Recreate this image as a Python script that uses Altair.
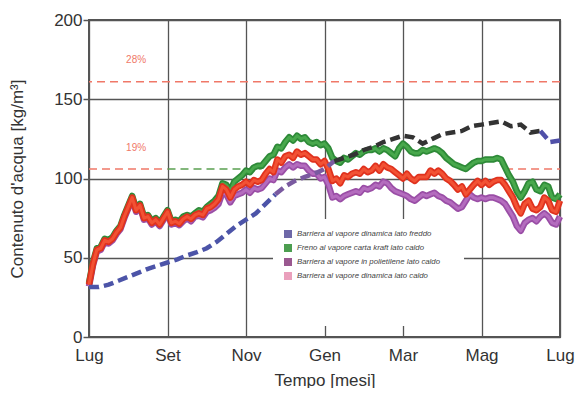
import json
import altair as alt
import pandas as pd

# ---------------- data ----------------
month_labels = ["Lug", "Set", "Nov", "Gen", "Mar", "Mag", "Lug"]
tick_months = [0, 2, 4, 6, 8, 10, 12]
y_ticks = [0, 50, 100, 150, 200]

# time grid (months from July), 0.1 month step
t_warm = [round(i * 0.1, 1) for i in range(121)]

green = [
    34, 47, 56, 57, 62, 61, 63, 67, 70, 77,
    83, 89, 81, 84, 76, 77, 73, 75, 72, 76,
    80, 73, 74, 73, 76, 77, 76, 78, 80, 79,
    82, 84, 86, 89, 97, 96, 92, 98, 100, 102,
    105, 104, 107, 108, 108, 111, 114, 115, 120, 119,
    123, 126, 124, 127, 125, 126, 123, 122, 123, 121,
    122, 119, 113, 111, 110, 113, 112, 114, 116, 115,
    117, 118, 118, 119, 117, 119, 118, 116, 114, 119,
    122, 120, 117, 116, 116, 118, 117, 118, 119, 118,
    116, 113, 111, 109, 108, 107, 106, 108, 110, 111,
    111, 112, 112, 112, 113, 112, 107, 102, 98, 92,
    88, 92, 97, 98, 93, 92, 96, 95, 88, 87,
    90,
]
red = [
    33, 46, 55, 56, 61, 60, 62, 66, 69, 76,
    82, 88, 80, 83, 75, 76, 72, 74, 71, 75,
    79, 72, 73, 71.5, 74.5, 76, 74.5, 77, 78, 77,
    81, 82, 84, 87, 95, 93, 88, 93, 95, 96,
    98, 96, 99, 98, 99, 103, 106, 104, 112, 110,
    114, 115, 113, 117, 115, 116, 114, 112, 112, 109,
    111, 106, 98.5, 100, 97, 102, 101, 103, 104, 103,
    106, 104, 105, 108, 105, 109, 107, 106, 104, 102,
    100, 103, 100, 98.5, 101, 101, 101, 105, 103, 105,
    103, 100, 98.5, 96, 93, 95, 90, 93, 96, 98.5,
    96, 98.5, 96, 98, 99, 99, 96, 92, 88, 82,
    78, 84, 86, 81, 80, 82, 88, 86, 80, 79,
    86,
]
purple = [
    32, 45, 54, 55, 60, 59, 61, 65, 68, 75,
    81, 87, 79, 82, 74, 75, 71, 73, 70, 74,
    78, 71, 72, 70.5, 73, 75, 73, 76, 76.5, 75.5,
    79, 80, 81.5, 84, 91, 90, 85, 89, 90, 91,
    93, 91, 94, 93, 94, 97, 100, 99, 105, 104,
    107, 109, 107, 109, 108, 108, 105, 103, 103, 100,
    101, 96, 88, 89, 87, 89, 90, 91, 92, 91,
    94, 93, 94, 96, 95, 98, 97, 94, 92, 91,
    90, 89, 87, 86, 88, 90, 89, 90, 91, 89,
    88, 86, 85, 83, 81, 82, 86, 90, 88, 87,
    88, 87, 88, 88, 87, 86, 84, 80, 76, 70,
    67, 72, 74, 75, 73, 76, 78, 76, 72, 71,
    76,
]

# cold side (dashed) series, 0.25 month step
t_cold = [i * 0.25 for i in range(49)]
cold = [31.5, 31.5, 33, 35.5, 38, 40.5, 43, 45, 47, 49, 51.5, 53.5, 56, 60, 65,
        70, 74, 78, 84, 90, 95, 98.5, 101, 103, 106, 111, 113, 115, 118, 120,
        123, 125, 127, 126, 122, 125, 128, 129, 130, 133, 134, 135, 136, 133,
        134, 129, 130, 123, 124]
cold_seg_names = ["a", "b", "c", "d"]
cold_seg_breaks = [0, 4.75, 6.25, 11.5, 12]

thr_values = [161]
thr_labels = ["28%", "19%"]
thr_label_v = [175, 119]
thr_label_t = [1.2, 1.2]

# 19 % threshold (106) visible segments
seg19_value = 106
seg19_start = [0, 2.0, 10.6]
seg19_end = [2.0, 4.4, 12]
seg19_kind = ["r", "g", "r"]

legend_labels = [
    "Barriera al vapore dinamica lato freddo",
    "Freno al vapore carta kraft lato caldo",
    "Barriera al vapore in polietilene lato caldo",
    "Barriera al vapore dinamica lato caldo",
]

# ---------------- styles ----------------
FONT = "Liberation Sans"
W, H = 471, 317
swatch_colors = ["#6e68a8", "#4c9e50", "#9a5890", "#eaa0bc"]
cold_colors = ["#4c54a8", "#7a5aa0", "#333333", "#5050a8"]

# ---------------- frames ----------------
df_warm = pd.DataFrame({"t": t_warm, "green": green, "red": red, "purple": purple})
assert len(green) == len(red) == len(purple) == len(t_warm)

rows = []
for i, name in enumerate(cold_seg_names):
    a, b = cold_seg_breaks[i], cold_seg_breaks[i + 1]
    for t, v in zip(t_cold, cold):
        if a - 1e-9 <= t <= b + 1e-9:
            rows.append({"t": t, "v": v, "seg": name})
df_cold = pd.DataFrame(rows)

df_thr = pd.DataFrame({"v": thr_values})
df_thr_lab = pd.DataFrame({"t": thr_label_t, "v": thr_label_v, "lab": thr_labels})
df_19 = pd.DataFrame({"t": seg19_start, "t2": seg19_end, "kind": seg19_kind,
                      "v": [seg19_value] * len(seg19_start)})
df_leg = pd.DataFrame({"label": legend_labels})

label_expr = json.dumps(month_labels) + "[round(datum.value/2)]"

def X(field="t"):
    return alt.X(f"{field}:Q",
                 scale=alt.Scale(domain=[0, 12], nice=False, zero=False),
                 axis=alt.Axis(values=tick_months, labelExpr=label_expr, labelFlush=False,
                               labelOverlap=False,
                               title="Tempo [mesi]", tickSize=0, labelPadding=10,
                               titlePadding=9))

def Y(field="v"):
    return alt.Y(f"{field}:Q",
                 scale=alt.Scale(domain=[0, 200], nice=False),
                 axis=alt.Axis(values=y_ticks, title="Contenuto d'acqua [kg/m³]",
                               tickSize=6, labelPadding=1, titlePadding=27))

layers = []

# 28% threshold
layers.append(alt.Chart(df_thr).mark_rule(color="#f07868", strokeWidth=1.5,
                                          strokeDash=[8, 5]).encode(y=Y()))
# 19% threshold segments
for kind, col in [("r", "#f07868"), ("g", "#5aa050")]:
    layers.append(alt.Chart(df_19).transform_filter(alt.datum.kind == kind)
                  .mark_rule(color=col, strokeWidth=1.5, strokeDash=[8, 5])
                  .encode(x=X(), x2="t2:Q", y=Y()))
# threshold labels
layers.append(alt.Chart(df_thr_lab).mark_text(font=FONT, fontSize=10, color="#f07868")
              .encode(x=X(), y=Y(), text="lab:N"))

# legend white box
layers.append(alt.Chart(pd.DataFrame({"k": [0]})).mark_rect(fill="white")
              .encode(x=alt.value(184), x2=alt.value(375), y=alt.value(199), y2=alt.value(306)))

# warm side series (outer darker band + inner lighter core)
for col, outer, inner in [("purple", "#9a4ea6", "#b46cbe"),
                          ("green", "#2e8a38", "#48a84c"),
                          ("red", "#e0321e", "#f25234")]:
    layers.append(alt.Chart(df_warm).mark_line(color=outer, strokeWidth=6.5, strokeJoin="round")
                  .encode(x=X(), y=Y(col)))
    layers.append(alt.Chart(df_warm).mark_line(color=inner, strokeWidth=3, strokeJoin="round")
                  .encode(x=X(), y=Y(col)))

# cold side dashed series
layers.append(alt.Chart(df_cold).mark_line(strokeWidth=4.5, strokeDash=[10, 5])
              .encode(x=X(), y=Y(),
                      stroke=alt.Stroke("seg:N", scale=alt.Scale(domain=cold_seg_names,
                                                                 range=cold_colors),
                                        legend=None),
                      detail="seg:N"))

# legend (points clipped outside the view, only the legend is shown)
layers.append(alt.Chart(df_leg).mark_square(size=64, clip=True)
              .encode(x=alt.datum(0), y=alt.datum(-100),
                      color=alt.Color("label:N",
                                      scale=alt.Scale(domain=legend_labels, range=swatch_colors),
                                      legend=alt.Legend(title=None, orient="none",
                                                        legendX=195, legendY=210,
                                                        symbolType="square", symbolSize=64,
                                                        symbolStrokeWidth=0, symbolOpacity=1,
                                                        labelFont=FONT, labelFontSize=7.8,
                                                        labelFontStyle="italic", labelColor="#444",
                                                        rowPadding=6, padding=0, labelOffset=5,
                                                        labelLimit=400))))

chart = (alt.layer(*layers)
         .properties(width=W, height=H, padding={"left": 0, "top": 3, "right": 0, "bottom": 0})
         .configure_view(stroke="#555555", strokeWidth=2)
         .configure_axis(gridColor="#555555", gridWidth=1.3, gridOpacity=1, domain=False,
                         tickColor="#555555", tickWidth=1.5,
                         labelFont=FONT, labelFontSize=17, labelColor="#333333",
                         titleFont=FONT, titleFontSize=17, titleColor="#333333",
                         titleFontWeight="normal"))

chart.save("out.html", embed_options={"renderer": "svg", "actions": False})
